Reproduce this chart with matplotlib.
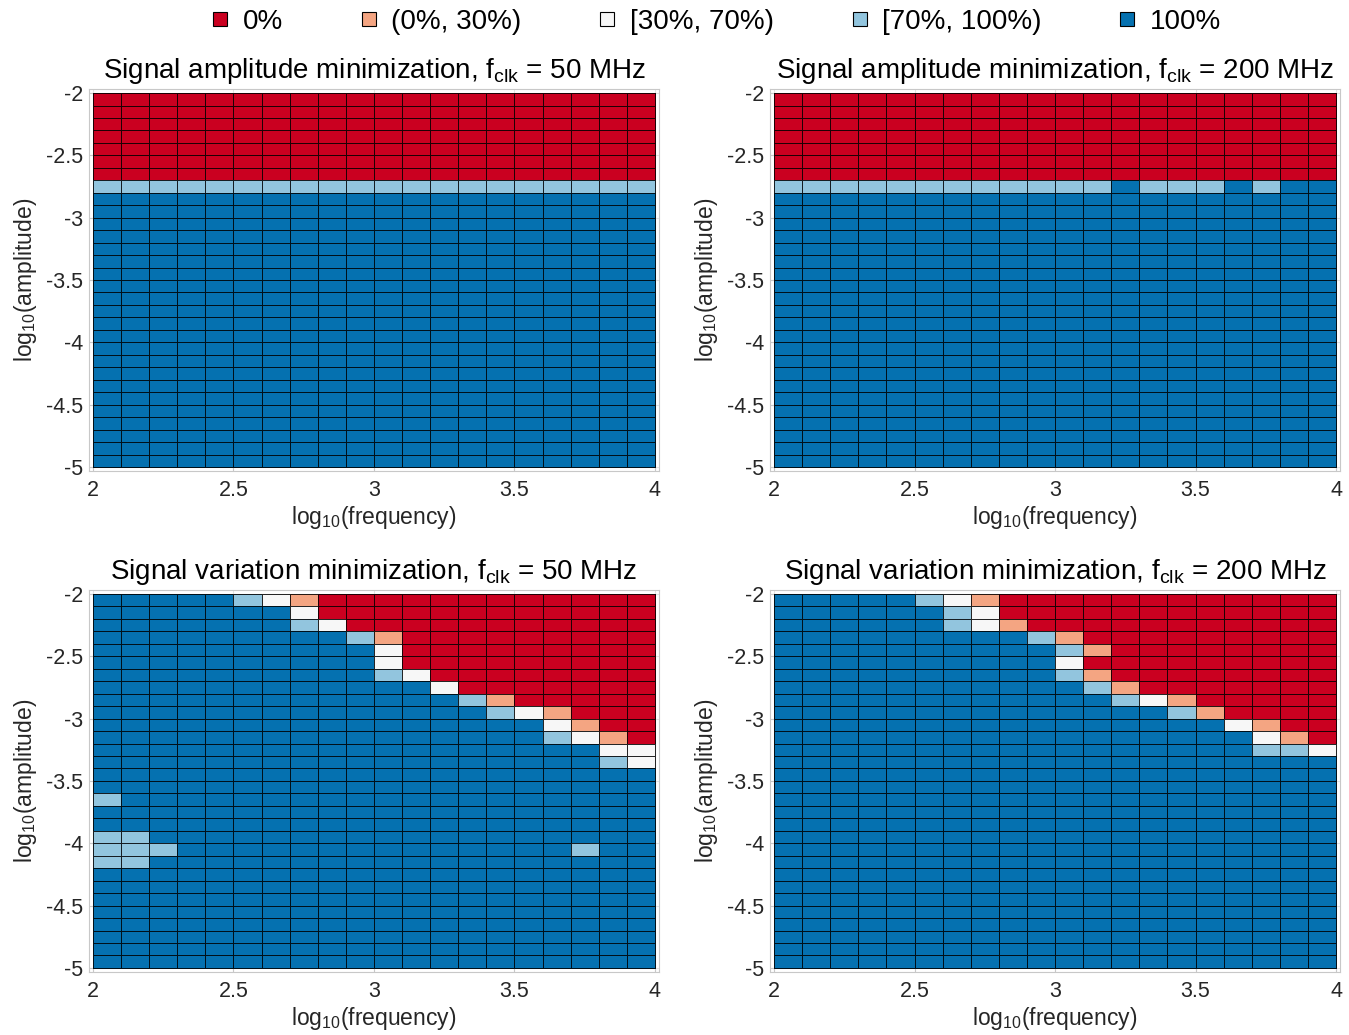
import matplotlib
matplotlib.use("Agg")
import matplotlib.pyplot as plt
import numpy as np
from matplotlib.colors import ListedColormap, BoundaryNorm
from matplotlib.lines import Line2D

plt.rcParams["font.family"] = ["Liberation Sans", "DejaVu Sans"]
plt.rcParams["mathtext.fontset"] = "custom"
plt.rcParams["mathtext.rm"] = "Liberation Sans"
plt.rcParams["mathtext.it"] = "Liberation Sans:italic"
plt.rcParams["axes.unicode_minus"] = False

# success-rate classes and their colours (ColorBrewer RdBu-5)
categories = ["0%", "(0%, 30%)", "[30%, 70%)", "[70%, 100%)", "100%"]
category_codes = "ROWLB"
category_colors = ["#ca0020", "#f4a582", "#f7f7f7", "#92c5de", "#0571b0"]

# grid: 20 frequency bins (log10 2..4), 30 amplitude bins (log10 -2..-5, top row first)
freq_edges = np.linspace(2, 4, 21)
amp_edges = np.linspace(-2, -5, 31)

x_ticks = [2, 2.5, 3, 3.5, 4]
x_tick_labels = ["2", "2.5", "3", "3.5", "4"]
y_ticks = [-5, -4.5, -4, -3.5, -3, -2.5, -2]
y_tick_labels = ["-5", "-4.5", "-4", "-3.5", "-3", "-2.5", "-2"]

# R = 0%, O = (0%, 30%), W = [30%, 70%), L = [70%, 100%), B = 100%
amp_50 = [
    "RRRRRRRRRRRRRRRRRRRR",
    "RRRRRRRRRRRRRRRRRRRR",
    "RRRRRRRRRRRRRRRRRRRR",
    "RRRRRRRRRRRRRRRRRRRR",
    "RRRRRRRRRRRRRRRRRRRR",
    "RRRRRRRRRRRRRRRRRRRR",
    "RRRRRRRRRRRRRRRRRRRR",
    "LLLLLLLLLLLLLLLLLLLL",
    "BBBBBBBBBBBBBBBBBBBB",
    "BBBBBBBBBBBBBBBBBBBB",
    "BBBBBBBBBBBBBBBBBBBB",
    "BBBBBBBBBBBBBBBBBBBB",
    "BBBBBBBBBBBBBBBBBBBB",
    "BBBBBBBBBBBBBBBBBBBB",
    "BBBBBBBBBBBBBBBBBBBB",
    "BBBBBBBBBBBBBBBBBBBB",
    "BBBBBBBBBBBBBBBBBBBB",
    "BBBBBBBBBBBBBBBBBBBB",
    "BBBBBBBBBBBBBBBBBBBB",
    "BBBBBBBBBBBBBBBBBBBB",
    "BBBBBBBBBBBBBBBBBBBB",
    "BBBBBBBBBBBBBBBBBBBB",
    "BBBBBBBBBBBBBBBBBBBB",
    "BBBBBBBBBBBBBBBBBBBB",
    "BBBBBBBBBBBBBBBBBBBB",
    "BBBBBBBBBBBBBBBBBBBB",
    "BBBBBBBBBBBBBBBBBBBB",
    "BBBBBBBBBBBBBBBBBBBB",
    "BBBBBBBBBBBBBBBBBBBB",
    "BBBBBBBBBBBBBBBBBBBB",
]

amp_200 = [
    "RRRRRRRRRRRRRRRRRRRR",
    "RRRRRRRRRRRRRRRRRRRR",
    "RRRRRRRRRRRRRRRRRRRR",
    "RRRRRRRRRRRRRRRRRRRR",
    "RRRRRRRRRRRRRRRRRRRR",
    "RRRRRRRRRRRRRRRRRRRR",
    "RRRRRRRRRRRRRRRRRRRR",
    "LLLLLLLLLLLLBLLLBLBB",
    "BBBBBBBBBBBBBBBBBBBB",
    "BBBBBBBBBBBBBBBBBBBB",
    "BBBBBBBBBBBBBBBBBBBB",
    "BBBBBBBBBBBBBBBBBBBB",
    "BBBBBBBBBBBBBBBBBBBB",
    "BBBBBBBBBBBBBBBBBBBB",
    "BBBBBBBBBBBBBBBBBBBB",
    "BBBBBBBBBBBBBBBBBBBB",
    "BBBBBBBBBBBBBBBBBBBB",
    "BBBBBBBBBBBBBBBBBBBB",
    "BBBBBBBBBBBBBBBBBBBB",
    "BBBBBBBBBBBBBBBBBBBB",
    "BBBBBBBBBBBBBBBBBBBB",
    "BBBBBBBBBBBBBBBBBBBB",
    "BBBBBBBBBBBBBBBBBBBB",
    "BBBBBBBBBBBBBBBBBBBB",
    "BBBBBBBBBBBBBBBBBBBB",
    "BBBBBBBBBBBBBBBBBBBB",
    "BBBBBBBBBBBBBBBBBBBB",
    "BBBBBBBBBBBBBBBBBBBB",
    "BBBBBBBBBBBBBBBBBBBB",
    "BBBBBBBBBBBBBBBBBBBB",
]

var_50 = [
    "BBBBBLWORRRRRRRRRRRR",
    "BBBBBBBWRRRRRRRRRRRR",
    "BBBBBBBLWRRRRRRRRRRR",
    "BBBBBBBBBLORRRRRRRRR",
    "BBBBBBBBBBWRRRRRRRRR",
    "BBBBBBBBBBWRRRRRRRRR",
    "BBBBBBBBBBLWRRRRRRRR",
    "BBBBBBBBBBBBWRRRRRRR",
    "BBBBBBBBBBBBBLORRRRR",
    "BBBBBBBBBBBBBBLWORRR",
    "BBBBBBBBBBBBBBBBWORR",
    "BBBBBBBBBBBBBBBBLWOR",
    "BBBBBBBBBBBBBBBBBBWW",
    "BBBBBBBBBBBBBBBBBBLW",
    "BBBBBBBBBBBBBBBBBBBB",
    "BBBBBBBBBBBBBBBBBBBB",
    "LBBBBBBBBBBBBBBBBBBB",
    "BBBBBBBBBBBBBBBBBBBB",
    "BBBBBBBBBBBBBBBBBBBB",
    "LLBBBBBBBBBBBBBBBBBB",
    "LLLBBBBBBBBBBBBBBLBB",
    "LLBBBBBBBBBBBBBBBBBB",
    "BBBBBBBBBBBBBBBBBBBB",
    "BBBBBBBBBBBBBBBBBBBB",
    "BBBBBBBBBBBBBBBBBBBB",
    "BBBBBBBBBBBBBBBBBBBB",
    "BBBBBBBBBBBBBBBBBBBB",
    "BBBBBBBBBBBBBBBBBBBB",
    "BBBBBBBBBBBBBBBBBBBB",
    "BBBBBBBBBBBBBBBBBBBB",
]

var_200 = [
    "BBBBBLWORRRRRRRRRRRR",
    "BBBBBBLWRRRRRRRRRRRR",
    "BBBBBBLWORRRRRRRRRRR",
    "BBBBBBBBBLORRRRRRRRR",
    "BBBBBBBBBBLORRRRRRRR",
    "BBBBBBBBBBWRRRRRRRRR",
    "BBBBBBBBBBLORRRRRRRR",
    "BBBBBBBBBBBLORRRRRRR",
    "BBBBBBBBBBBBLWORRRRR",
    "BBBBBBBBBBBBBBLORRRR",
    "BBBBBBBBBBBBBBBBWORR",
    "BBBBBBBBBBBBBBBBBWOR",
    "BBBBBBBBBBBBBBBBBLLW",
    "BBBBBBBBBBBBBBBBBBBB",
    "BBBBBBBBBBBBBBBBBBBB",
    "BBBBBBBBBBBBBBBBBBBB",
    "BBBBBBBBBBBBBBBBBBBB",
    "BBBBBBBBBBBBBBBBBBBB",
    "BBBBBBBBBBBBBBBBBBBB",
    "BBBBBBBBBBBBBBBBBBBB",
    "BBBBBBBBBBBBBBBBBBBB",
    "BBBBBBBBBBBBBBBBBBBB",
    "BBBBBBBBBBBBBBBBBBBB",
    "BBBBBBBBBBBBBBBBBBBB",
    "BBBBBBBBBBBBBBBBBBBB",
    "BBBBBBBBBBBBBBBBBBBB",
    "BBBBBBBBBBBBBBBBBBBB",
    "BBBBBBBBBBBBBBBBBBBB",
    "BBBBBBBBBBBBBBBBBBBB",
    "BBBBBBBBBBBBBBBBBBBB",
]

titles = [
    r"Signal amplitude minimization, f$_{\mathrm{clk}}$ = 50 MHz",
    r"Signal amplitude minimization, f$_{\mathrm{clk}}$ = 200 MHz",
    r"Signal variation minimization, f$_{\mathrm{clk}}$ = 50 MHz",
    r"Signal variation minimization, f$_{\mathrm{clk}}$ = 200 MHz",
]
panels = [amp_50, amp_200, var_50, var_200]

TEXT = "#262626"
FRAME = "#c8c8c8"

cmap = ListedColormap(category_colors)
norm = BoundaryNorm(np.arange(-0.5, len(categories) + 0.5), cmap.N)

fig = plt.figure(figsize=(13.49, 10.35), dpi=100)

# axes rectangles in figure fraction (left, bottom, width, height)
positions = [
    (0.0658, 0.5452, 0.4228, 0.3685),
    (0.5707, 0.5452, 0.4228, 0.3685),
    (0.0658, 0.0612, 0.4228, 0.3685),
    (0.5707, 0.0612, 0.4228, 0.3685),
]

for pos, rows, title in zip(positions, panels, titles):
    ax = fig.add_axes(pos)
    grid = np.array([[category_codes.index(c) for c in row] for row in rows])
    ax.pcolormesh(freq_edges, amp_edges, grid, cmap=cmap, norm=norm,
                  edgecolors=(0, 0, 0, 0.85), linewidth=0.7)
    ax.set_xlim(1.985, 4.015)
    ax.set_ylim(-5.03, -1.97)
    ax.set_xticks(x_ticks)
    ax.set_xticklabels(x_tick_labels)
    ax.set_yticks(y_ticks)
    ax.set_yticklabels(y_tick_labels)
    ax.tick_params(direction="in", length=3, color=FRAME, labelcolor=TEXT,
                   labelsize=15.5)
    ax.tick_params(axis="x", pad=7)
    ax.tick_params(axis="y", pad=4)
    ax.grid(True, color="#e3e3e3", linewidth=0.8)
    ax.set_axisbelow(True)
    for sp in ax.spines.values():
        sp.set_color(FRAME)
        sp.set_linewidth(0.8)
    ax.set_xlabel(r"log$_{\mathrm{10}}$(frequency)", fontsize=16.5, color=TEXT,
                  labelpad=2)
    ax.set_ylabel(r"log$_{\mathrm{10}}$(amplitude)", fontsize=16.5, color=TEXT,
                  labelpad=5)
    ax.set_title(title, fontsize=20, color="black", pad=8)

handles = [Line2D([], [], linestyle="none", marker="s", markersize=10.5,
                  markerfacecolor=c, markeredgecolor="black", markeredgewidth=0.8)
           for c in category_colors]
fig.legend(handles, categories, loc="center", bbox_to_anchor=(0.529, 0.979),
           ncol=5, frameon=False, fontsize=20, handlelength=1.0,
           handletextpad=0.3, columnspacing=2.6)

fig.savefig("out.png", dpi=100)
